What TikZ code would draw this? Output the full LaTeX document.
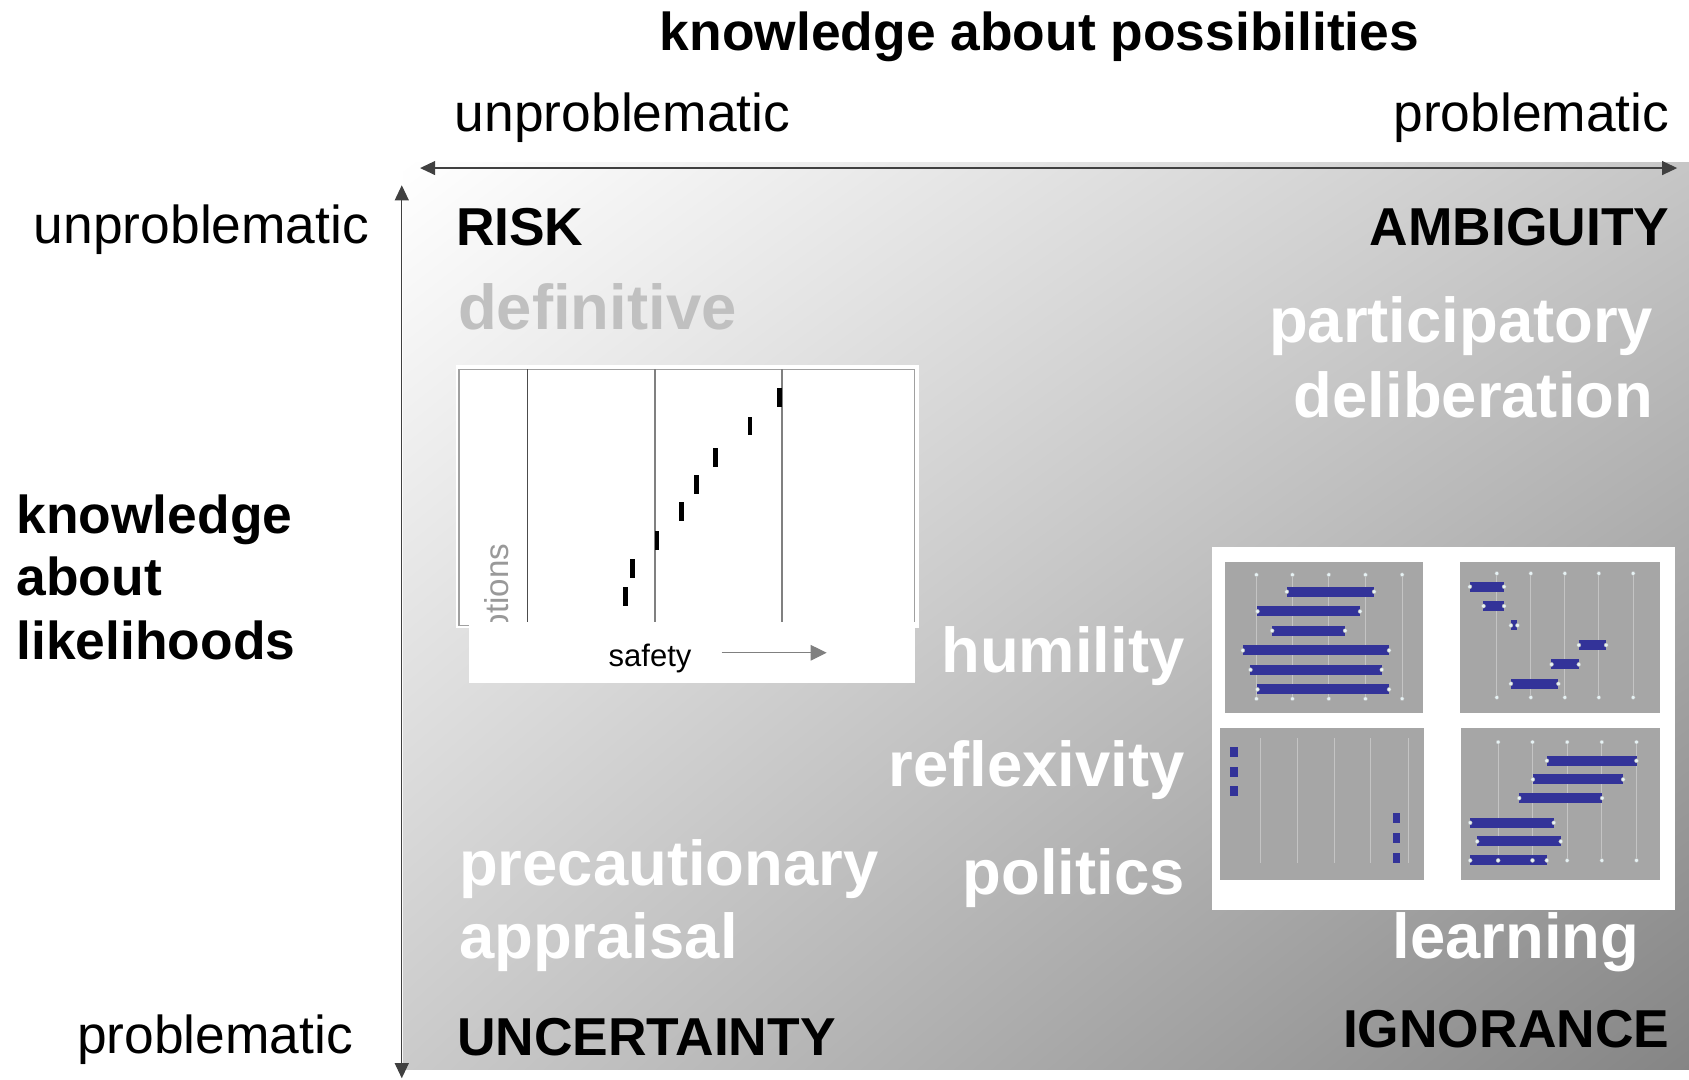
\documentclass[tikz,border=0pt]{standalone}
\usepackage{fontspec}
\setmainfont{Liberation Sans}
\usetikzlibrary{arrows.meta, shadings}

\definecolor{shadeTR}{HTML}{C6C6C6}
\definecolor{shadeBL}{HTML}{CACACA}
\definecolor{shadeBR}{HTML}{858585}
\definecolor{defgray}{HTML}{C0C0C0}
\definecolor{framegray}{HTML}{A0A0A0}
\definecolor{panelgray}{HTML}{A6A6A6}
\definecolor{gridgray}{HTML}{C4C4C4}
\definecolor{barblue}{HTML}{333399}
\definecolor{dotwhite}{HTML}{E6F2F4}

\tikzset{
  axis/.style={draw=black!75, line width=0.6pt, {Triangle[length=0.28cm, width=0.26cm]}-{Triangle[length=0.28cm, width=0.26cm]}},
  axistext/.style={inner sep=0pt, font=\fontsize{28.2}{34}\selectfont},
  headtext/.style={inner sep=0pt, font=\fontsize{28.2}{34}\selectfont\bfseries},
  strategy/.style={inner sep=0pt, text=white, font=\fontsize{33.5}{40}\selectfont\bfseries},
  gridline/.style={draw=gridgray, line width=0.6pt},
  bardot/.style={fill=dotwhite, draw=gray!60, line width=0.2pt},
}

\begin{document}
\begin{tikzpicture}[x=0.02cm, y=-0.02cm]
    \useasboundingbox (0,0) rectangle (1568,1002);
    % Shaded field
    \shade[upper left=white, upper right=shadeTR, lower left=shadeBL, lower right=shadeBR] (374,151) rectangle (1568,993);
    % Axes
    \coordinate (xl) at (390,156);
    \coordinate (xr) at (1557,156);
    \coordinate (yt) at (373,172);
    \coordinate (yb) at (373,1001);
    \draw[axis] (xl) -- (xr);
    \draw[axis] (yt) -- (yb);
    % Axis labels
    \node[headtext, anchor=base] (poss) at (965,47) {knowledge about possibilities};
    \node[axistext, anchor=base west] (unprobX) at (422,122) {unproblematic};
    \node[axistext, anchor=base east] (probX) at (1550,122) {problematic};
    \node[axistext, anchor=base east] (unprobY) at (343,226) {unproblematic};
    \node[axistext, anchor=base east] (probY) at (328,978) {problematic};
    \foreach \w/\y in {knowledge/495, about/553, likelihoods/612} {
        \node[headtext, anchor=base west] (lk-\w) at (15,\y) {\w};
    }
    % Quadrant names
    \node[headtext, anchor=base west] (risk) at (423,228) {RISK};
    \node[headtext, anchor=base east] (ambig) at (1550,228) {AMBIGUITY};
    \node[headtext, anchor=base west] (uncert) at (424,980) {UNCERTAINTY};
    \node[headtext, anchor=base east] (ignor) at (1550,972) {IGNORANCE};
    % Strategies
    \node[strategy, text=defgray, anchor=base west] (defin) at (425,306) {definitive};
    \node[strategy, anchor=base east] (partic) at (1535,318) {participatory};
    \node[strategy, anchor=base east] (delib) at (1535,388) {deliberation};
    \node[strategy, anchor=base east] (humil) at (1100,624) {humility};
    \node[strategy, anchor=base east] (reflex) at (1100,730) {reflexivity};
    \node[strategy, anchor=base east] (polit) at (1100,830) {politics};
    \node[strategy, anchor=base west] (precaut) at (426,822) {precautionary};
    \node[strategy, anchor=base west] (apprais) at (426,890) {appraisal};
    \node[strategy, anchor=base east] (learn) at (1522,890) {learning};

    % Risk chart
    \begin{scope}[shift={(389.9,306.4)}, scale=0.3095]
        \fill[white] (108,105) rectangle (1497,895);
        \draw[framegray, line width=0.6pt] (117,118) rectangle (1483,885);
        \draw[black!70, line width=0.6pt] (322,118) -- (322,875);
        \foreach \x in {705, 1086} {
            \draw[gray, line width=0.6pt] (\x,118) -- (\x,875);
        }
        \foreach \x/\y in {1078/203, 990/288, 887/383, 829/463, 785/545, 711/632, 637/715, 616/800} {
            \fill[black] (\x-7,\y-28) rectangle (\x+7,\y+28);
        }
        \node[rotate=90, anchor=base east, inner sep=0pt, text=black!40, font=\fontsize{17.5}{21}\selectfont] (opts) at (266,640) {options};
        \fill[white] (147,875) rectangle (1485,1058);
        \node[anchor=base, inner sep=0pt, font=\fontsize{16.4}{20}\selectfont] (safety) at (690,1008) {safety};
        \coordinate (sa) at (905,968);
        \coordinate (sb) at (1220,968);
        \draw[black!50, line width=0.6pt, -{Triangle[length=0.3cm, width=0.29cm]}] (sa) -- (sb);
    \end{scope}

    % Ignorance panels
    \begin{scope}[shift={(1123.4,506.0)}, scale=0.3095]
        \fill[white] (5,5) rectangle (1395,1095);
        \fill[panelgray] (45,50) rectangle (638,503);
        \fill[panelgray] (750,50) rectangle (1350,503);
        \fill[panelgray] (30,549) rectangle (641,1004);
        \fill[panelgray] (753,549) rectangle (1350,1004);
        % top left
        \foreach \x in {139, 247, 356, 466, 576} {
            \draw[gridline] (\x,89) -- (\x,461);
            \filldraw[bardot] (\x,89) circle (6) (\x,461) circle (6);
        }
        \foreach \y/\a/\b in {140/230/492, 199/142/450, 257/186/405, 316/98/537, 374/121/515, 433/142/537} {
            \fill[barblue] (\a,\y-15) rectangle (\b,\y+15);
            \filldraw[bardot] (\a,\y) circle (6) (\b,\y) circle (6);
        }
        % top right
        \foreach \x in {860, 962, 1064, 1166, 1269} {
            \draw[gridline] (\x,85) -- (\x,457);
            \filldraw[bardot] (\x,85) circle (6) (\x,457) circle (6);
        }
        \foreach \y/\a/\b in {125/779/882, 183/820/882, 241/902/922, 300/1106/1188, 358/1024/1106, 416/902/1045} {
            \fill[barblue] (\a,\y-15) rectangle (\b,\y+15);
            \filldraw[bardot] (\a,\y) circle (6) (\b,\y) circle (6);
        }
        % bottom left
        \foreach \x in {151, 261, 373, 482, 594} {
            \draw[gridline] (\x,580) -- (\x,955);
        }
        \foreach \x/\y in {72/620, 72/680, 72/739, 560/818, 560/878, 560/938} {
            \fill[barblue] (\x-11,\y-15) rectangle (\x+11,\y+15);
        }
        % bottom right
        \foreach \x in {864, 967, 1071, 1175, 1279} {
            \draw[gridline] (\x,591) -- (\x,946);
            \filldraw[bardot] (\x,591) circle (6) (\x,946) circle (6);
        }
        \foreach \y/\a/\b in {647/1010/1279, 703/968/1239, 759/927/1176, 833/780/1031, 889/801/1052, 946/780/1010} {
            \fill[barblue] (\a,\y-15) rectangle (\b,\y+15);
            \filldraw[bardot] (\a,\y) circle (6) (\b,\y) circle (6);
        }
        \filldraw[bardot] (864,946) circle (6) (967,946) circle (6);
    \end{scope}
\end{tikzpicture}
\end{document}
